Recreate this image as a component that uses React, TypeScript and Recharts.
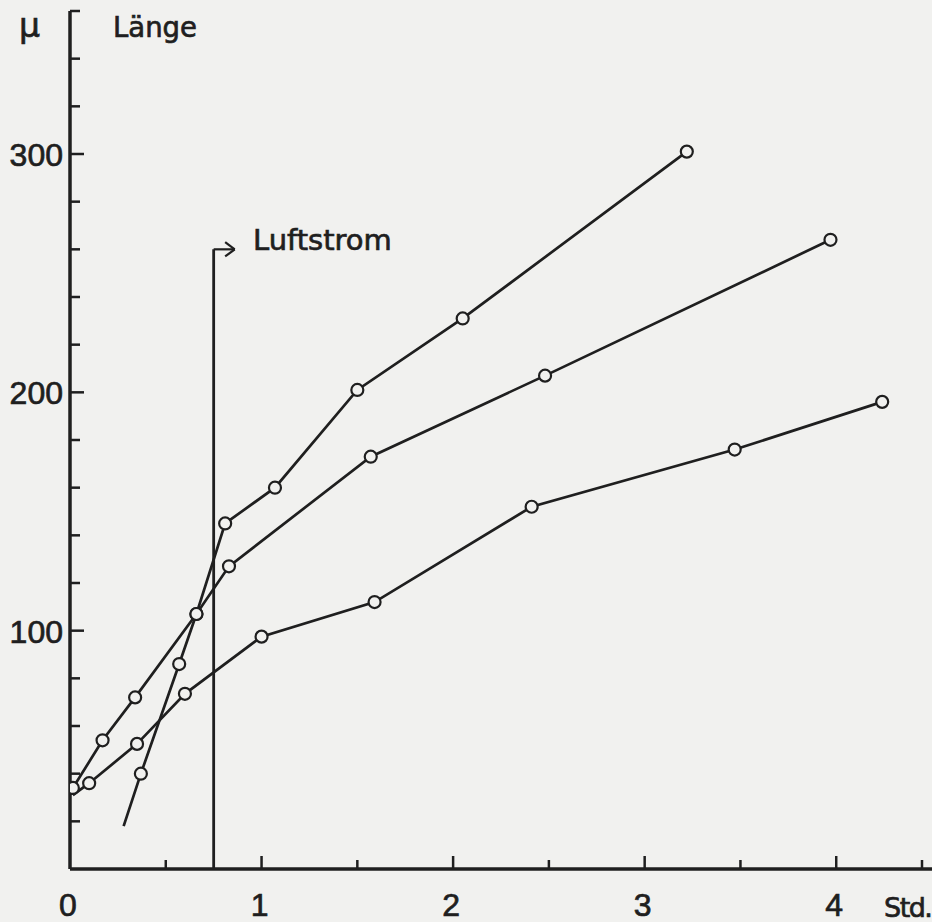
import React from 'react';
import { LineChart, Line, XAxis, YAxis, ReferenceLine } from 'recharts';

// Series A (steepest curve)
const hoursA = [0.28, 0.37, 0.57, 0.66, 0.81, 1.07, 1.5, 2.05, 3.22];
const lengthA = [18, 40, 86, 107, 145, 160, 201, 231, 301];
// Series B (middle curve)
const hoursB = [0.015, 0.17, 0.34, 0.66, 0.83, 1.57, 2.48, 3.97];
const lengthB = [34, 54, 72, 107, 127, 173, 207, 264];
// Series C (lowest curve)
const hoursC = [0.015, 0.1, 0.35, 0.6, 1.0, 1.59, 2.41, 3.47, 4.24];
const lengthC = [31, 36, 52.5, 73.5, 97.5, 112, 152, 176, 196];

const xTicks = [0, 0.5, 1, 1.5, 2, 2.5, 3, 3.5, 4, 4.5];
const xLabelTicks = [0, 1, 2, 3, 4];
const yTicks = [0, 20, 40, 60, 80, 100, 120, 140, 160, 180, 200, 220, 240, 260, 280, 300, 320, 340, 360];
const yLabelTicks = [100, 200, 300];

const airflowHour = 0.75;
const airflowTop = 260;
const airflowArrowEnd = 0.86;

const INK = '#1f1f1f';
const PAPER = '#f1f1ef';
const TEXT_STROKE = { stroke: INK, strokeWidth: 0.7 };

const toRows = (hs: number[], vs: number[]) => hs.map((h, i) => ({ h, v: vs[i] }));
const dataA = toRows(hoursA, lengthA);
const dataB = toRows(hoursB, lengthB);
const dataC = toRows(hoursC, lengthC);

const makeDot = (skipFirst: boolean) => (props: any) => {
  const { cx, cy, index } = props;
  if (skipFirst && index === 0) return <g key={`d${index}`} />;
  return <circle key={`d${index}`} cx={cx} cy={cy} r={6} fill={PAPER} stroke={INK} strokeWidth={2.2} />;
};

const XTick = (props: any) => {
  const { x, y, payload } = props;
  const v = payload.value;
  const major = xLabelTicks.includes(v);
  return (
    <g>
      {v !== 0 && (
        <line x1={x} x2={x} y1={y} y2={y - (major ? 13 : 9)} stroke={INK} strokeWidth={2.5} />
      )}
      {major && (
        <text x={x - 2} y={y + 47} textAnchor="middle" fontSize={32} fill={INK} {...TEXT_STROKE} fontFamily="Liberation Sans, Arial, sans-serif">
          {String(v)}
        </text>
      )}
    </g>
  );
};

const YTick = (props: any) => {
  const { x, y, payload } = props;
  const v = payload.value;
  const major = yLabelTicks.includes(v);
  return (
    <g>
      {v !== 0 && (
        <line x1={x} x2={x + (major ? 14 : 10)} y1={y} y2={y} stroke={INK} strokeWidth={2.5} />
      )}
      {major && (
        <text x={x - 7} y={y + 12} textAnchor="end" fontSize={32} fill={INK} {...TEXT_STROKE} fontFamily="Liberation Sans, Arial, sans-serif">
          {String(v)}
        </text>
      )}
    </g>
  );
};

export default function App() {
  const W = 932;
  const H = 922;
  return (
    <div style={{ position: 'absolute', left: 0, top: 0, width: W, height: H, background: PAPER }}>
      <LineChart width={W} height={H} margin={{ top: 11, right: 0, bottom: 0, left: 0 }}>
        <XAxis
          dataKey="h"
          type="number"
          domain={[0, 4.5]}
          ticks={xTicks}
          tick={<XTick />}
          tickLine={false}
          tickSize={0}
          tickMargin={0}
          height={53}
          axisLine={{ stroke: INK, strokeWidth: 3.5 }}
          allowDataOverflow
        />
        <YAxis
          dataKey="v"
          type="number"
          domain={[0, 360]}
          ticks={yTicks}
          tick={<YTick />}
          tickLine={false}
          tickSize={0}
          tickMargin={0}
          width={70}
          axisLine={{ stroke: INK, strokeWidth: 3.5 }}
          allowDataOverflow
          interval={0}
        />
        <ReferenceLine
          segment={[{ x: airflowHour, y: 0 }, { x: airflowHour, y: airflowTop }]}
          stroke={INK}
          strokeWidth={2.8}
        />
        <ReferenceLine
          segment={[{ x: airflowHour, y: airflowTop }, { x: airflowArrowEnd, y: airflowTop }]}
          stroke={INK}
          strokeWidth={2.2}
        />
        <ReferenceLine
          segment={[{ x: airflowArrowEnd, y: airflowTop }, { x: airflowArrowEnd - 0.05, y: airflowTop + 3 }]}
          stroke={INK}
          strokeWidth={2.2}
        />
        <ReferenceLine
          segment={[{ x: airflowArrowEnd, y: airflowTop }, { x: airflowArrowEnd - 0.05, y: airflowTop - 3 }]}
          stroke={INK}
          strokeWidth={2.2}
        />
        <Line data={dataA} dataKey="v" type="linear" stroke={INK} strokeWidth={2.7} dot={makeDot(true)} isAnimationActive={false} />
        <Line data={dataB} dataKey="v" type="linear" stroke={INK} strokeWidth={2.7} dot={makeDot(false)} isAnimationActive={false} />
        <Line data={dataC} dataKey="v" type="linear" stroke={INK} strokeWidth={2.7} dot={makeDot(true)} isAnimationActive={false} />
      </LineChart>
      <svg width={W} height={H} style={{ position: 'absolute', left: 0, top: 0, pointerEvents: 'none' }}>
        <text x={19} y={37} fontSize={33} fill={INK} {...TEXT_STROKE} fontFamily="DejaVu Sans, sans-serif">µ</text>
        <text x={113} y={37} fontSize={27.5} fill={INK} {...TEXT_STROKE} fontFamily="DejaVu Sans, sans-serif">Länge</text>
        <text x={253} y={250} fontSize={29} fill={INK} {...TEXT_STROKE} fontFamily="DejaVu Sans, sans-serif">Luftstrom</text>
        <text x={884} y={917} fontSize={27} letterSpacing={-1.5} fill={INK} {...TEXT_STROKE} fontFamily="DejaVu Sans, sans-serif">Std.</text>
      </svg>
    </div>
  );
}
